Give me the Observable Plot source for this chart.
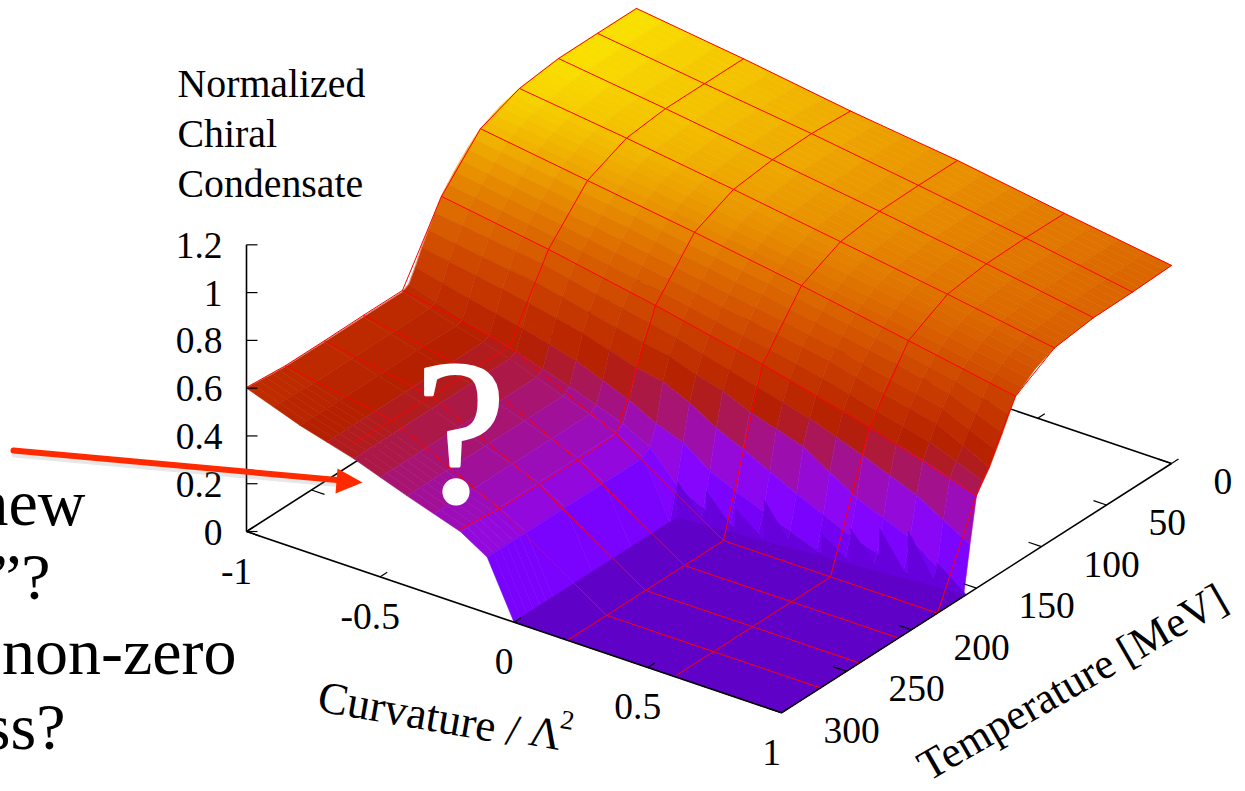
<!DOCTYPE html>
<html><head><meta charset="utf-8">
<style>html,body{margin:0;padding:0;background:#fff}svg{display:block}</style>
<script src="https://cdn.jsdelivr.net/npm/d3@7"></script>
<script src="https://cdn.jsdelivr.net/npm/@observablehq/plot@0.6"></script>
</head><body><div id="chart"></div>
<script>
// ---- data ----
const curvature = [-1,-0.8,-0.6,-0.4,-0.2,-0.1,0,0.1,0.2,0.4,0.6,0.8,1];
const temperature = [0,30,60,90,105,120,130,140,150,155,160,165,170,175,180,210,240,270,300];
const condensate = [
 [1.146,1.115,1.087,1.053,1.020,1.005,0.990,0.978,0.965,0.930,0.895,0.862,0.829],
 [1.146,1.115,1.087,1.058,1.030,1.012,0.995,0.980,0.965,0.930,0.897,0.860,0.822],
 [1.145,1.115,1.087,1.056,1.025,1.008,0.990,0.975,0.961,0.927,0.893,0.855,0.819],
 [1.124,1.096,1.068,1.037,1.005,0.988,0.970,0.955,0.938,0.904,0.870,0.835,0.797],
 [1.100,1.070,1.040,1.010,0.980,0.960,0.945,0.925,0.910,0.875,0.840,0.800,0.760],
 [1.060,1.030,0.995,0.965,0.930,0.910,0.895,0.875,0.859,0.820,0.780,0.740,0.699],
 [1.010,0.975,0.940,0.910,0.870,0.855,0.835,0.820,0.800,0.760,0.720,0.670,0.580],
 [0.950,0.915,0.880,0.840,0.805,0.785,0.765,0.745,0.730,0.690,0.630,0.580,0.470],
 [0.881,0.845,0.811,0.770,0.728,0.705,0.680,0.655,0.633,0.580,0.522,0.460,0.388],
 [0.830,0.800,0.770,0.720,0.675,0.650,0.620,0.590,0.560,0.500,0.420,0.330,0.200],
 [0.775,0.740,0.710,0.660,0.610,0.590,0.550,0.520,0.470,0.400,0.260,0.170,0],
 [0.720,0.680,0.640,0.590,0.520,0.500,0.450,0.380,0.330,0.220,0.120,0.050,0],
 [0.655,0.600,0.550,0.490,0.400,0.340,0.300,0.220,0.170,0.080,0,0,0],
 [0.600,0.530,0.470,0.400,0.320,0.260,0.140,0.080,0.050,0,0,0,0],
 [0.585,0.520,0.457,0.377,0.300,0.234,0,0,0,0,0,0,0],
 [0.585,0.520,0.457,0.377,0.300,0.234,0,0,0,0,0,0,0],
 [0.585,0.520,0.457,0.377,0.300,0.234,0,0,0,0,0,0,0],
 [0.585,0.520,0.457,0.377,0.300,0.234,0,0,0,0,0,0,0],
 [0.600,0.520,0.457,0.377,0.303,0.234,0,0,0,0,0,0,0]
];
// the red mesh is a coarser data set that sits slightly off the surface
const meshCurvature = [-1,-0.6,-0.2,0.2,0.6,1];
const meshTemperature = [0,30,60,90,120,150,180,210,240,270,300];
const meshCondensate = [
 [1.146,1.087,1.020,0.965,0.895,0.829],
 [1.146,1.087,1.030,0.965,0.897,0.822],
 [1.145,1.087,1.025,0.961,0.893,0.819],
 [1.124,1.068,1.005,0.938,0.870,0.797],
 [1.060,0.995,0.930,0.859,0.780,0.699],
 [0.881,0.811,0.728,0.633,0.522,0.388],
 [0.592,0.509,0.293,0,0,0],
 [0.592,0.510,0.290,0,0,0],
 [0.590,0.510,0.290,0,0,0],
 [0.590,0.513,0.294,0,0,0],
 [0.603,0.520,0.315,0,0,0]
];
// where the floor starts at the foot of the cliff, and the height of each saw-tooth
const footCurvature = [0,0.1,0.2,0.3,0.4,0.5,0.6,0.7,0.8,0.9,1];
const footTemperature = [174,172.4,170.8,169.2,167.6,166,164.4,162.8,161.2,159.6,158];
const toothHeight = [0.146,0.14,0.10,0.167,0.04,0.09,0.146,0.18,0.2,0.10];
const curvatureTicks = [-1,-0.5,0,0.5,1];
const temperatureTicks = [0,50,100,150,200,250,300];
const condensateTicks = [0,0.2,0.4,0.6,0.8,1,1.2];
const titleLines = ["Normalized","Chiral","Condensate"];
const slideLines = [["new",85,503],["”?",50,577],["non-zero",236,652],["ss?",65,727]];

// ---- oblique view of gnuplot's splot, plus pm3d's palette 7,5,15 ----
const serif = "Liberation Serif";
const P = (x,T,z=0)=>[246+(x+1)*267.5+(300-T)/300*390, 531+(x+1)*90.65-(300-T)/300*249.3-z*238.9];
const palette = t=>{t=Math.max(0,Math.min(1,t));
  const r=Math.sqrt(t),g=t*t*t,b=Math.max(0,Math.sin(2*Math.PI*t));
  return `rgb(${Math.round(255*r)},${Math.round(255*g)},${Math.round(255*b)})`;};

// pm3d facets: each table cell is cut into small flat-coloured patches, back to front
const facets=[]; let id=0;
const addFacet=(pts,z)=>{id++;for(const p of pts){const [px,py]=P(...p);facets.push({id,px,py,z});}};
for(let j=0;j<temperature.length-1;j++){
  const T0=temperature[j],T1=temperature[j+1];
  const sameRow=condensate[j].every((v,i)=>v===condensate[j+1][i]);
  const nt=sameRow?1:Math.max(1,Math.round((T1-T0)/5));
  for(let s=0;s<nt;s++){
    for(let i=0;i<curvature.length-1;i++){
      const x0=curvature[i],x1=curvature[i+1];
      const flat=condensate[j][i]===0&&condensate[j][i+1]===0&&condensate[j+1][i]===0&&condensate[j+1][i+1]===0;
      const nx=flat?1:Math.max(1,Math.round((x1-x0)/0.1));
      for(let k=0;k<nx;k++){
        const u0=k/nx,u1=(k+1)/nx,v0=s/nt,v1=(s+1)/nt;
        const zAt=(u,v)=>(1-v)*((1-u)*condensate[j][i]+u*condensate[j][i+1])+v*((1-u)*condensate[j+1][i]+u*condensate[j+1][i+1]);
        const xa=x0+(x1-x0)*u0,xb=x0+(x1-x0)*u1,ta=T0+(T1-T0)*v0,tb=T0+(T1-T0)*v1;
        const a=zAt(u0,v0),b=zAt(u1,v0),c=zAt(u1,v1),d=zAt(u0,v1);
        addFacet([[xa,ta,a],[xb,ta,b],[xb,tb,c],[xa,tb,d]],(a+b+c+d)/4);
      }
    }
  }
}
// floor in front of the cliff, then the saw-teeth along its foot
addFacet([...footCurvature.map((x,i)=>[x,footTemperature[i],0]),[1,300,0],[0,300,0]],0);
toothHeight.forEach((h,i)=>addFacet([
  [footCurvature[i],footTemperature[i],h],
  [footCurvature[i],footTemperature[i],0],
  [footCurvature[i+1],footTemperature[i+1],0]],0.03));

// red coarse mesh (no line along the T=300 edge)
const mesh=[]; let mid=0;
meshTemperature.slice(0,-1).forEach((T,j)=>{mid++;meshCurvature.forEach((x,i)=>{const [px,py]=P(x,T,meshCondensate[j][i]);mesh.push({mid,px,py});});});
meshCurvature.forEach((x,i)=>{mid++;meshTemperature.forEach((T,j)=>{const [px,py]=P(x,T,meshCondensate[j][i]);mesh.push({mid,px,py});});});

// axes
const seg=(a,b)=>{const [x1,y1]=a,[x2,y2]=b;return {x1,y1,x2,y2};};
const backAxes=[seg(P(-1,300),P(-1,0)),seg(P(-1,0),P(1,0))];
const frontAxes=[seg(P(-1,300),P(1,300)),seg(P(1,300),P(1,0)),seg(P(-1,300,0),P(-1,300,1.2))];
const tick=(a,dx,dy)=>seg(a,[a[0]+dx,a[1]+dy]);
const backTicks=[
  ...curvatureTicks.map(x=>tick(P(x,0),7,-4.5)),
  ...temperatureTicks.map(T=>tick(P(-1,T),13,4.4))];
const frontTicks=[
  ...curvatureTicks.map(x=>tick(P(x,300),7,-4.5)),
  ...temperatureTicks.map(T=>tick(P(1,T),-13,-4.4)),
  ...condensateTicks.map(z=>tick(P(-1,300,z),11,0))];
const xLab=curvatureTicks.map(v=>{const [px,py]=P(v,300);return {px:px-10,py:py+40,t:String(v)};});
const tLab=temperatureTicks.map(v=>{const [px,py]=P(1,v);return {px:px+42,py:py+18,t:String(v)};});
const zLab=condensateTicks.map(v=>{const [px,py]=P(-1,300,v);return {px:222,py:py+1,t:String(v)};});
const arrowHead=[[337,468],[362,482],[335,493]].map(([px,py])=>({px,py}));
const arrowShaft=[{px:13,py:450},{px:342,py:480}];
const arrowShadow=arrowShaft.map(d=>({px:d.px+1,py:d.py+4}));

const lab=(data,o)=>Plot.text(data,{x:"px",y:"py",text:"t",fontFamily:serif,fontSize:37.5,fill:"black",...o});
const link=(data,w)=>Plot.link(data,{x1:"x1",y1:"y1",x2:"x2",y2:"y2",stroke:"black",strokeWidth:w});

const chart=Plot.plot({
  width:1245,height:791,margin:0,
  x:{type:"identity",axis:null},y:{type:"identity",axis:null},
  color:{type:"linear",domain:[-0.2,1.2],interpolate:palette},
  style:{background:"white"},
  marks:[
    link(backAxes,1.6),link(backTicks,1.2),
    Plot.line(facets,{x:"px",y:"py",z:"id",fill:"z",stroke:"z",strokeWidth:0.6,curve:"linear-closed"}),
    Plot.line(mesh,{x:"px",y:"py",z:"mid",stroke:"#ff0000",strokeWidth:1}),
    link(frontAxes,1.6),link(frontTicks,1.2),
    lab(xLab,{}),
    lab(tLab,{textAnchor:"start"}),
    lab(zLab,{textAnchor:"end"}),
    lab(titleLines.map((t,i)=>({t,px:177,py:84+i*50})),{textAnchor:"start",fontSize:39.8}),
    lab([{t:"Curvature /",px:318,py:696}],{textAnchor:"start",rotate:10,fontSize:45}),
    lab([{t:"Λ",px:545,py:733}],{rotate:10,fontSize:44}),
    lab([{t:"2",px:567,py:720}],{rotate:10,fontSize:27}),
    lab([{t:"Temperature [MeV]",px:1072,py:682}],{rotate:-30,fontSize:43.5}),
    lab(slideLines.map(([t,px,py])=>({t,px,py})),{textAnchor:"end",fontSize:66}),
    lab([{t:"?",px:460,py:435}],{fontSize:205,fill:"white",stroke:"white",strokeWidth:3}),
    Plot.line(arrowShadow,{x:"px",y:"py",stroke:"#888",strokeWidth:6,strokeOpacity:0.2}),
    Plot.line(arrowShaft,{x:"px",y:"py",stroke:"#ff2a00",strokeWidth:6}),
    Plot.line(arrowHead,{x:"px",y:"py",fill:"#ff2a00",stroke:"none",curve:"linear-closed"})
  ]
});
document.getElementById("chart").append(chart);
</script></body></html>
